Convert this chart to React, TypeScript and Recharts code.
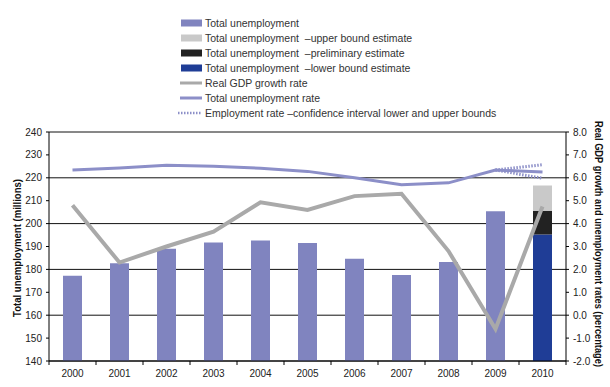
import React from "react";
import {
  ComposedChart,
  Bar,
  Line,
  XAxis,
  YAxis,
  CartesianGrid,
} from "recharts";

const years = ["2000", "2001", "2002", "2003", "2004", "2005", "2006", "2007", "2008", "2009", "2010"];
const totalUnemployment = [177.2, 182.7, 189, 191.8, 192.6, 191.5, 184.6, 177.6, 183.2, 205.4, null];
const lowerBound = [null, null, null, null, null, null, null, null, null, null, 195.2];
const preliminary = [null, null, null, null, null, null, null, null, null, null, 205.6];
const upperBound = [null, null, null, null, null, null, null, null, null, null, 216.6];
const gdpGrowth = [4.8, 2.3, 3.0, 3.65, 4.93, 4.6, 5.2, 5.3, 2.8, -0.6, 4.75];
const unemploymentRate = [6.34, 6.43, 6.55, 6.5, 6.42, 6.28, 6.0, 5.7, 5.78, 6.34, 6.25];
const ciUpper = [null, null, null, null, null, null, null, null, null, 6.34, 6.57];
const ciLower = [null, null, null, null, null, null, null, null, null, 6.34, 5.98];
const leftTicks = [140, 150, 160, 170, 180, 190, 200, 210, 220, 230, 240];
const rightTicks = [-2, -1, 0, 1, 2, 3, 4, 5, 6, 7, 8];

const data = years.map((year, i) => ({
  year,
  total: totalUnemployment[i],
  lower: lowerBound[i],
  prelim: preliminary[i] != null && lowerBound[i] != null ? preliminary[i]! - lowerBound[i]! : null,
  upper: upperBound[i] != null && preliminary[i] != null ? upperBound[i]! - preliminary[i]! : null,
  gdp: gdpGrowth[i],
  rate: unemploymentRate[i],
  ciUp: ciUpper[i],
  ciLow: ciLower[i],
}));

const BAR = "#8084bf";
const FONT = "'Liberation Sans', Arial, sans-serif";

const legendItems = [
  { label: "Total unemployment", kind: "box", color: BAR },
  { label: "Total unemployment  \u2013upper bound estimate", kind: "box", color: "#c9c9c9" },
  { label: "Total unemployment  \u2013preliminary estimate", kind: "box", color: "#222222" },
  { label: "Total unemployment  \u2013lower bound estimate", kind: "box", color: "#1f3d96" },
  { label: "Real GDP growth rate", kind: "line", color: "#a9a9a9" },
  { label: "Total unemployment rate", kind: "line", color: "#8c8fc8" },
  { label: "Employment rate \u2013confidence interval lower and upper bounds", kind: "dot", color: "#8c8fc8" },
];

const BAND = 47;

function YearTick(props: any) {
  const { x, y, payload, index } = props;
  return (
    <g>
      {index === 0 && <line x1={x - BAND / 2} x2={x - BAND / 2} y1={y} y2={y + 4} stroke="#000" />}
      <line x1={x + BAND / 2} x2={x + BAND / 2} y1={y} y2={y + 4} stroke="#000" />
      <text x={x} y={y + 16} textAnchor="middle" fontSize={10} fill="#222" fontFamily={FONT}>
        {payload.value}
      </text>
    </g>
  );
}

export default function App() {
  return (
    <div style={{ position: "absolute", left: 0, top: 0, width: 610, height: 387, background: "#fff" }}>
      <style>{"body{margin:0}"}</style>
      <ComposedChart
        width={610}
        height={387}
        data={data}
        margin={{ top: 132, right: 0, bottom: 0, left: 0 }}
      >
        <CartesianGrid yAxisId="left" vertical={false} stroke="#111" strokeWidth={1} />
        <XAxis
          dataKey="year"
          height={26}
          tickLine={false}
          tickSize={0}
          tickMargin={0}
          axisLine={{ stroke: "#000" }}
          tick={<YearTick />}
          interval={0}
        />
        <YAxis
          yAxisId="left"
          width={49}
          domain={[140, 240]}
          ticks={leftTicks}
          allowDataOverflow
          tickSize={3}
          tickMargin={4}
          axisLine={{ stroke: "#000" }}
          tickLine={{ stroke: "#000" }}
          tick={{ fontSize: 10, fill: "#222", fontFamily: FONT }}
        />
        <YAxis
          yAxisId="right"
          orientation="right"
          width={44}
          domain={[-2, 8]}
          ticks={rightTicks}
          tickFormatter={(v: number) => v.toFixed(1)}
          tickSize={3}
          tickMargin={4}
          axisLine={{ stroke: "#000" }}
          tickLine={{ stroke: "#000" }}
          tick={{ fontSize: 10, fill: "#222", fontFamily: FONT }}
        />
        <Bar yAxisId="left" dataKey="total" stackId="s" fill={BAR} barSize={19} isAnimationActive={false} />
        <Bar yAxisId="left" dataKey="lower" stackId="s" fill="#1f3d96" barSize={19} isAnimationActive={false} />
        <Bar yAxisId="left" dataKey="prelim" stackId="s" fill="#222222" barSize={19} isAnimationActive={false} />
        <Bar yAxisId="left" dataKey="upper" stackId="s" fill="#c9c9c9" barSize={19} isAnimationActive={false} />
        <Line yAxisId="right" dataKey="rate" stroke="#8c8fc8" strokeWidth={3} dot={false} isAnimationActive={false} />
        <Line yAxisId="right" dataKey="ciUp" stroke="#8c8fc8" strokeWidth={3} strokeDasharray="1.5 1.5" dot={false} isAnimationActive={false} />
        <Line yAxisId="right" dataKey="ciLow" stroke="#8c8fc8" strokeWidth={3} strokeDasharray="1.5 1.5" dot={false} isAnimationActive={false} />
        <Line yAxisId="right" dataKey="gdp" stroke="#a9a9a9" strokeWidth={4} dot={false} isAnimationActive={false} />
      </ComposedChart>

      <svg width={610} height={387} style={{ position: "absolute", left: 0, top: 0, pointerEvents: "none" }}>
        {legendItems.map((it, i) => {
          const cy = 23 + i * 15;
          return (
            <g key={it.label}>
              {it.kind === "box" && <rect x={181} y={cy - 3.5} width={21} height={7} fill={it.color} />}
              {it.kind === "line" && <line x1={180} x2={202} y1={cy} y2={cy} stroke={it.color} strokeWidth={3} />}
              {it.kind === "dot" && (
                <line x1={178} x2={202} y1={cy} y2={cy} stroke={it.color} strokeWidth={2.5} strokeDasharray="1.5 1.5" />
              )}
              <text x={205} y={cy + 3.5} fontSize={10.5} fill="#333" fontFamily={FONT} style={{ whiteSpace: "pre" }}>
                {it.label}
              </text>
            </g>
          );
        })}
        <text
          x={18}
          y={248}
          transform="rotate(-90 18 248)"
          textAnchor="middle"
          dominantBaseline="middle"
          fontSize={11}
          fontWeight="bold"
          fill="#111"
          fontFamily={FONT}
          textLength={138}
          lengthAdjust="spacingAndGlyphs"
        >
          Total unemployment (millions)
        </text>
        <text
          x={598}
          y={244}
          transform="rotate(90 598 244)"
          textAnchor="middle"
          dominantBaseline="middle"
          fontSize={10}
          fontWeight="bold"
          fill="#111"
          fontFamily={FONT}
          textLength={246}
          lengthAdjust="spacingAndGlyphs"
        >
          Real GDP growth and unemployment rates (percentage)
        </text>
      </svg>
    </div>
  );
}
